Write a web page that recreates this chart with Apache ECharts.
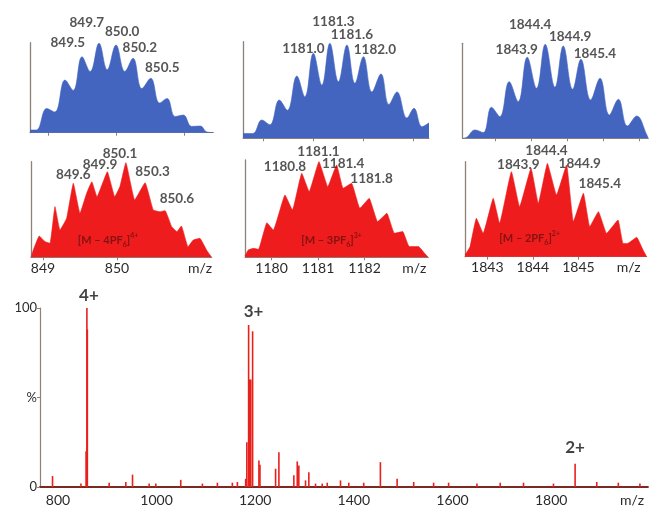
<!DOCTYPE html>
<html><head><meta charset="utf-8">
<script src="https://cdn.jsdelivr.net/npm/echarts@6/dist/echarts.min.js"></script>
<style>html,body{margin:0;padding:0;background:#fff}#c{width:651px;height:507px}</style>
</head><body><div id="c"></div>
<script>
// ---------- Data: isotope patterns (m/z, relative intensity %) ----------
const blue1Mz  = [848.735, 848.83, 848.98, 849.10, 849.25, 849.37, 849.50, 849.62, 849.75, 849.87, 850.00, 850.13, 850.25, 850.38, 850.51, 850.64, 850.75, 850.87, 850.99, 851.11, 851.24, 851.33, 851.43];
const blue1Int = [3, 3, 27, 23, 58.5, 47, 84.4, 68, 99.3, 70, 97.4, 68, 82.6, 49, 60.4, 33, 38.1, 18, 19.6, 7, 7.4, 1, 0];

const blue2Mz  = [1179.594, 1179.79, 1179.97, 1180.13, 1180.32, 1180.48, 1180.67, 1180.83, 1181.00, 1181.17, 1181.33, 1181.50, 1181.67, 1181.83, 1182.00, 1182.17, 1182.35, 1182.51, 1182.67, 1182.87, 1183.01, 1183.17, 1183.31];
const blue2Int = [5, 5, 19, 14, 39.6, 29, 64.5, 43, 88, 55, 98.3, 58.6, 96.6, 57, 84.5, 48, 66.6, 35, 48, 21, 31, 12, 16];

const blue3Mz  = [1842.11, 1842.22, 1842.45, 1842.68, 1842.91, 1843.14, 1843.40, 1843.65, 1843.90, 1844.16, 1844.40, 1844.67, 1844.90, 1845.16, 1845.39, 1845.66, 1845.92, 1846.18, 1846.43, 1846.68, 1846.94, 1847.22, 1847.26];
const blue3Int = [0, 1, 8.8, 6, 32.6, 22.8, 59.6, 38.6, 85.3, 52.6, 98.9, 53.7, 97.2, 51.6, 83.2, 40.4, 63.2, 24.6, 41, 13, 23.5, 3.5, 0];

const red1Mz  = [848.838, 848.869, 848.95, 849.027, 849.095, 849.162, 849.23, 849.32, 849.41, 849.50, 849.59, 849.66, 849.73, 849.87, 849.97, 850.04, 850.12, 850.24, 850.38, 850.49, 850.58, 850.65, 850.74, 850.81, 850.87, 850.96, 851.03, 851.12, 851.21, 851.28];
const red1Int = [0, 7.7, 22.3, 16.4, 14.6, 53, 28.6, 40.8, 77.4, 46, 67, 79, 63.4, 89.5, 63.4, 74, 99, 60, 78, 49.5, 47.7, 48.8, 32, 26.8, 32.8, 11, 18, 19.9, 7.7, 0];

const red2Mz  = [1179.43, 1179.50, 1179.61, 1179.72, 1179.90, 1180.04, 1180.29, 1180.45, 1180.65, 1180.81, 1181.02, 1181.21, 1181.40, 1181.54, 1181.72, 1181.90, 1182.10, 1182.28, 1182.48, 1182.64, 1182.82, 1182.96, 1183.16, 1183.29, 1183.37];
const red2Int = [1.4, 7.5, 9.2, 8.2, 35.6, 28, 64, 48.6, 86.3, 67.5, 98.3, 72.6, 94.9, 70.9, 76, 50.3, 60.6, 36.6, 45.2, 24.7, 26.4, 11, 11, 4.1, 0];

const red3Mz  = [1842.51, 1842.62, 1842.76, 1842.91, 1843.13, 1843.27, 1843.53, 1843.71, 1843.96, 1844.12, 1844.32, 1844.52, 1844.74, 1844.89, 1845.11, 1845.25, 1845.44, 1845.62, 1845.87, 1845.98, 1846.08, 1846.28, 1846.42, 1846.50];
const red3Int = [1.8, 10.5, 40.4, 24.6, 61.4, 35.1, 89.5, 52.6, 93, 56.1, 98.2, 64.9, 96.5, 36.8, 66.7, 31.6, 47.4, 24.6, 38.6, 14, 14, 20.4, 7, 0];

// ---------- Data: full spectrum (m/z, %) ----------
const specMz  = [789, 846.6, 857, 858.7, 859.6, 903.8, 937.6, 951.2, 984.9, 998.4, 1049, 1092.9, 1123.3, 1153.6, 1163.8, 1180.6, 1183, 1186.6, 1189, 1191, 1194.7, 1207.5, 1209.6, 1241.3, 1248, 1278.3, 1285.2, 1288.4, 1302, 1308.7, 1322.3, 1335.8, 1346, 1372.9, 1389.7, 1420, 1453.8, 1487.7, 1521.3, 1561.7, 1592.1, 1649.6, 1696.8, 1744, 1804.7, 1848.6, 1892.5, 1936.2, 1980];
const specInt = [6.1, 1.9, 20, 100, 88, 2.4, 2.8, 6.9, 1.9, 1.9, 4, 1.9, 2.4, 2.4, 2.8, 4.6, 25, 90.5, 60, 60, 87, 14.8, 12.4, 10.2, 19.4, 6.5, 14.3, 12, 3.7, 8.3, 1.9, 1.9, 2.4, 3.7, 2.4, 2.4, 13.9, 4.6, 2.8, 2.4, 2.4, 1.9, 2.4, 2.4, 1.9, 13, 2.8, 2.4, 1.9];

// ---------- Tick labels ----------
const red1Ticks = [849, 850];
const red2Ticks = [1180, 1181, 1182];
const red3Ticks = [1843, 1844, 1845];
const blue1Ticks = [849, 850, 851];
const blue2Ticks = [1180, 1181, 1182, 1183];
const blue3Ticks = [1843, 1844, 1845, 1846, 1847];
const specTicks = [800, 1000, 1200, 1400, 1600, 1800];
const specYTicks = [0, 50, 100];
const specYLabels = {0: '0', 50: '%', 100: '100'};
const axisName = 'm/z';

// ---------- Annotation texts and their anchors (data space) ----------
const blue1Labels = ['849.5', '849.7', '850.0', '850.2', '850.5'];
const blue1LabelMz = [849.29, 849.57, 850.09, 850.35, 850.68];
const blue1LabelInt = [99.7, 121.9, 111.9, 94.1, 71.9];
const blue2Labels = ['1181.0', '1181.3', '1181.6', '1182.0'];
const blue2LabelMz = [1180.8, 1181.4, 1181.77, 1182.23];
const blue2LabelInt = [93.1, 120.7, 107, 92.1];
const blue3Labels = ['1843.9', '1844.4', '1844.9', '1845.4'];
const blue3LabelMz = [1843.61, 1843.98, 1845.09, 1845.78];
const blue3LabelInt = [93.7, 119.3, 107, 89.5];
const red1Labels = ['849.6', '849.9', '850.1', '850.3', '850.6'];
const red1LabelMz = [849.41, 849.77, 850.04, 850.48, 850.81];
const red1LabelInt = [86.1, 96.7, 108, 89.5, 61.7];
const red2Labels = ['1180.8', '1181.1', '1181.4', '1181.8'];
const red2LabelMz = [1180.29, 1181.01, 1181.54, 1182.15];
const red2LabelInt = [93.1, 108.5, 96.6, 81.2];
const red3Labels = ['1843.9', '1844.4', '1844.9', '1845.4'];
const red3LabelMz = [1843.68, 1844.30, 1845.03, 1845.47];
const red3LabelInt = [96.5, 111.6, 98.3, 77.3];

const ionLost = ['4', '3', '2'];
const ionCharge = ['4+', '3+', '2+'];
const ionLabelMz = [849.88, 1181.29, 1843.93];
const ionLabelInt = [18.1, 17.8, 19.4];

const chargeLabels = ['4+', '3+', '2+'];
const chargeLabelMz = [862.8, 1196.6, 1848.6];
const chargeLabelInt = [107.2, 97.8, 22.2];

// ---------- Build ----------
const FONT = 'Lato';
const BLUE = '#4365c0';
const RED = '#ee1c1c';
const AXIS = '#8c8279';
const TXT = '#2b2b2b';
const pairs = (a, b) => a.map((v, i) => [v, b[i]]);
const plain = v => String(v);

const panels = [
  {grid: {left: 30, top: 42.7, width: 183.3, height: 90}, min: 848.735, max: 851.43, data: pairs(blue1Mz, blue1Int), color: BLUE, smooth: 0.4, ticks: blue1Ticks, labels: false,
   ann: {t: blue1Labels, x: blue1LabelMz, y: blue1LabelInt}},
  {grid: {left: 243, top: 41.7, width: 186, height: 96.6}, min: 1179.594, max: 1183.31, data: pairs(blue2Mz, blue2Int), color: BLUE, smooth: 0.4, ticks: blue2Ticks, labels: false,
   ann: {t: blue2Labels, x: blue2LabelMz, y: blue2LabelInt}},
  {grid: {left: 462.7, top: 43.3, width: 185.6, height: 95}, min: 1842.11, max: 1847.26, data: pairs(blue3Mz, blue3Int), color: BLUE, smooth: 0.4, ticks: blue3Ticks, labels: false,
   ann: {t: blue3Labels, x: blue3LabelMz, y: blue3LabelInt}},
  {grid: {left: 31, top: 161.7, width: 180.7, height: 95.6}, min: 848.838, max: 851.28, data: pairs(red1Mz, red1Int), color: RED, smooth: 0.1, ticks: red1Ticks, labels: true, nameGap: -11.7,
   ann: {t: red1Labels, x: red1LabelMz, y: red1LabelInt}, ion: 0},
  {grid: {left: 245, top: 160, width: 183.3, height: 97.3}, min: 1179.43, max: 1183.37, data: pairs(red2Mz, red2Int), color: RED, smooth: 0.1, ticks: red2Ticks, labels: true, nameGap: -14,
   ann: {t: red2Labels, x: red2LabelMz, y: red2LabelInt}, ion: 1},
  {grid: {left: 465, top: 161.7, width: 181.7, height: 95}, min: 1842.51, max: 1846.50, data: pairs(red3Mz, red3Int), color: RED, smooth: 0.1, ticks: red3Ticks, labels: true, nameGap: -18,
   ann: {t: red3Labels, x: red3LabelMz, y: red3LabelInt}, ion: 2}
];

const grids = [], xAxes = [], yAxes = [], series = [];

panels.forEach((p, i) => {
  grids.push(Object.assign({containLabel: false}, p.grid));
  xAxes.push({
    type: 'value', gridIndex: i, min: p.min, max: p.max,
    axisLine: {show: true, lineStyle: {color: AXIS, width: 1}},
    axisTick: {show: true, length: 3, customValues: p.ticks, lineStyle: {color: AXIS}},
    axisLabel: p.labels ? {show: true, customValues: p.ticks, formatter: plain, color: TXT, fontSize: 14, fontFamily: FONT, margin: 4} : {show: false},
    splitLine: {show: false},
    name: p.labels ? axisName : '',
    nameLocation: 'end', nameGap: p.nameGap || 0,
    nameTextStyle: {align: 'center', verticalAlign: 'top', padding: [4, 0, 0, 0], color: TXT, fontSize: 14, fontFamily: FONT}
  });
  yAxes.push({
    type: 'value', gridIndex: i, min: 0, max: 100,
    axisLine: {show: true, lineStyle: {color: AXIS, width: 1.3}},
    axisTick: {show: false}, axisLabel: {show: false}, splitLine: {show: false}
  });
  series.push({
    type: 'line', xAxisIndex: i, yAxisIndex: i, data: p.data, smooth: p.smooth,
    symbol: 'none', lineStyle: {width: 0.6, color: p.color},
    areaStyle: {color: p.color, opacity: 1}, silent: true, z: 2
  });
  series.push({
    type: 'scatter', xAxisIndex: i, yAxisIndex: i, clip: false, symbolSize: 1,
    itemStyle: {color: 'rgba(0,0,0,0)'},
    data: p.ann.t.map((t, k) => [p.ann.x[k], p.ann.y[k], t]),
    label: {show: true, position: 'inside', formatter: d => d.data[2], color: TXT, fontSize: 13.5, fontWeight: 'bold', fontFamily: FONT},
    z: 5
  });
  if (p.ion !== undefined) {
    const k = p.ion;
    series.push({
      type: 'scatter', xAxisIndex: i, yAxisIndex: i, clip: false, symbolSize: 1,
      itemStyle: {color: 'rgba(0,0,0,0)'},
      data: [[ionLabelMz[k], ionLabelInt[k]]],
      label: {
        show: true, position: 'inside',
        formatter: '{a|[M – ' + ionLost[k] + 'PF}{s|6}{a|]}{p|' + ionCharge[k] + '}',
        rich: {
          a: {fontSize: 11, color: '#6a1010', fontFamily: FONT, fontWeight: 'bold', lineHeight: 16},
          s: {fontSize: 7, color: '#6a1010', fontFamily: FONT, fontWeight: 'bold', verticalAlign: 'bottom', lineHeight: 16, padding: [6, 0, 0, 0]},
          p: {fontSize: 7, color: '#6a1010', fontFamily: FONT, fontWeight: 'bold', verticalAlign: 'top', lineHeight: 16, padding: [0, 0, 6, 0]}
        }
      },
      z: 6
    });
  }
});

// Full spectrum panel
const si = panels.length;
grids.push({left: 40, top: 308, width: 608, height: 180, containLabel: false});
xAxes.push({
  type: 'value', gridIndex: si, min: 763.6, max: 1996.4,
  axisLine: {show: true, lineStyle: {color: '#7a2a22', width: 1.8}},
  axisTick: {show: false},
  axisLabel: {show: true, customValues: specTicks, formatter: plain, color: TXT, fontSize: 14, fontFamily: FONT, margin: 6},
  splitLine: {show: false},
  name: axisName, nameLocation: 'end', nameGap: -16,
  nameTextStyle: {align: 'center', verticalAlign: 'top', padding: [6, 0, 0, 0], color: TXT, fontSize: 14, fontFamily: FONT}
});
yAxes.push({
  type: 'value', gridIndex: si, min: 0, max: 100,
  axisLine: {show: true, lineStyle: {color: AXIS, width: 1.2}},
  axisTick: {show: true, length: 3, customValues: specYTicks, lineStyle: {color: AXIS}},
  axisLabel: {show: true, customValues: specYTicks, formatter: v => specYLabels[v], color: TXT, fontSize: 13, fontFamily: FONT, margin: 3},
  splitLine: {show: false}
});
series.push({
  type: 'bar', xAxisIndex: si, yAxisIndex: si, data: pairs(specMz, specInt),
  barWidth: 1.6, itemStyle: {color: '#e8201c'}, silent: true, z: 2
});
series.push({
  type: 'scatter', xAxisIndex: si, yAxisIndex: si, clip: false, symbolSize: 1,
  itemStyle: {color: 'rgba(0,0,0,0)'},
  data: chargeLabels.map((t, k) => [chargeLabelMz[k], chargeLabelInt[k], t]),
  label: {show: true, position: 'inside', formatter: d => d.data[2], color: '#111', fontSize: 17, fontWeight: 'bold', fontFamily: FONT},
  z: 6
});

const chart = echarts.init(document.getElementById('c'), null, {renderer: 'canvas'});
chart.setOption({
  animation: false,
  backgroundColor: '#fff',
  grid: grids, xAxis: xAxes, yAxis: yAxes, series: series
});
</script>
</body></html>
